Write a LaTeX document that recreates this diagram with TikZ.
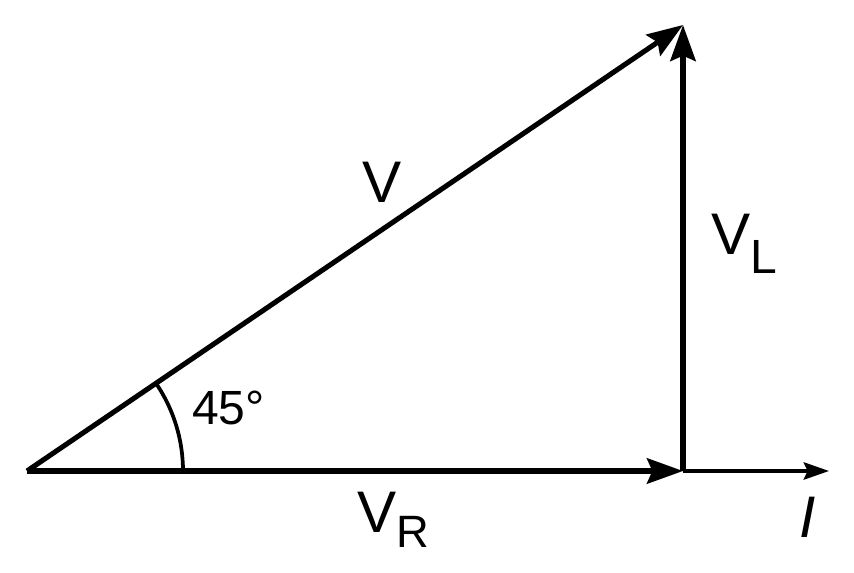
\documentclass[tikz,border=0pt]{standalone}
\usepackage{fontspec}
\setmainfont{Liberation Sans}
\usetikzlibrary{arrows.meta}

\tikzset{
  vec/.style={line width=3.8pt, -{Stealth[length=27pt, width=19pt, inset=4pt]}},
  thinvec/.style={line width=2.6pt, -{Stealth[length=19pt, width=13pt, inset=3pt]}},
  lbl/.style={inner sep=0pt, font=\fontsize{44}{48}\selectfont},
  sublbl/.style={inner sep=0pt, font=\fontsize{36}{40}\selectfont}
}

\begin{document}
\begin{tikzpicture}[x=0.75pt, y=-0.75pt]
\useasboundingbox (0,0) rectangle (854,573);

% points of the triangle
\coordinate (O) at (27,471);
\coordinate (R) at (683,471);
\coordinate (T) at (683,25);
\coordinate (Iend) at (829,471);

% phasors
\draw[vec] (O) -- (R);
\draw[vec] (R) -- (T);
\draw[vec] (O) -- (T);
\draw[thinvec] (R) -- (Iend);

% angle
\draw[line width=2.8pt] (O) ++(156,0) arc[start angle=0, end angle=-34.2, radius=156];
\node[sublbl, anchor=base west] (ang) at (192,425) {45°};

% labels
\node[lbl, anchor=base] (lV) at (382,203) {V};
\node[lbl, anchor=base west] (lVL) at (711,255) {V\raisebox{-14pt}{\fontsize{36}{40}\selectfont L}};
\node[lbl, anchor=base west] (lVR) at (357,533) {V\raisebox{-11pt}{\fontsize{34}{40}\selectfont R}};
\node[lbl, anchor=base] (lI) at (808,538) {\itshape I};
\end{tikzpicture}
\end{document}
